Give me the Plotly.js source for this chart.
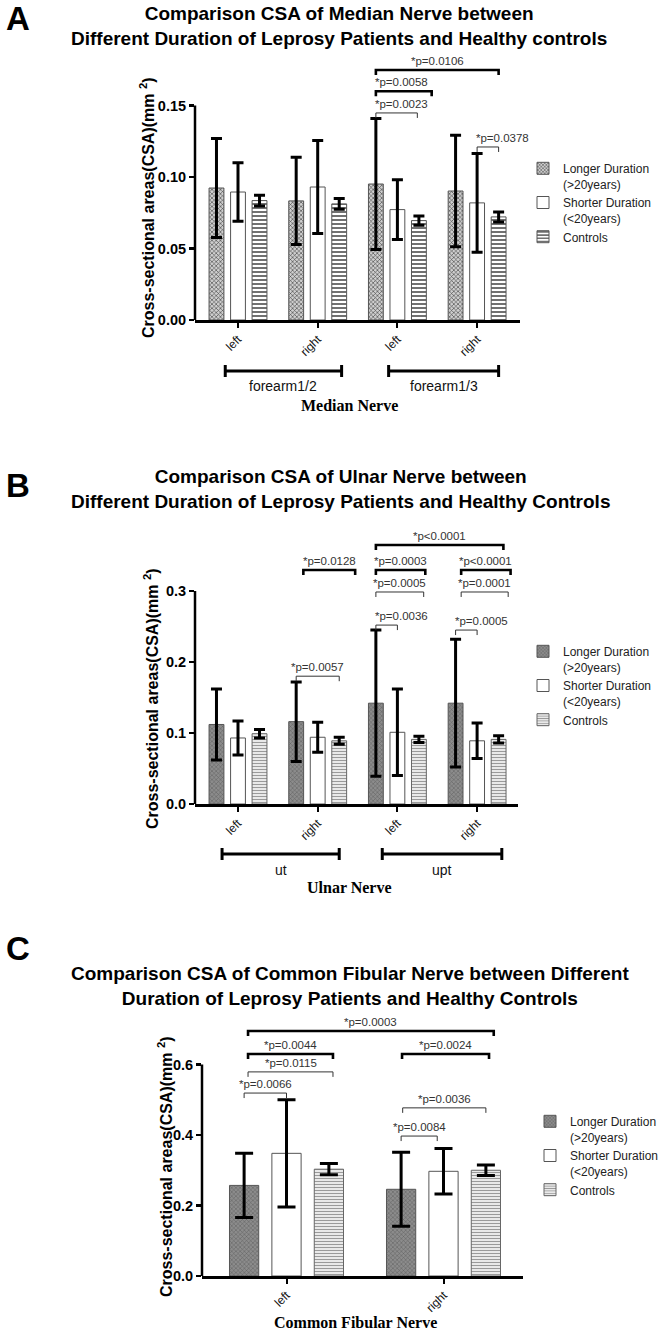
<!DOCTYPE html>
<html><head><meta charset="utf-8">
<script src="https://cdn.plot.ly/plotly-3.0.1.min.js"></script>
<style>body{margin:0;padding:0;background:#fff}#chart{width:666px;height:1335px}</style>
</head><body><div id="chart"></div>
<script>
// ---------------- DATA ----------------
const seriesNames = ['Longer Duration<br>(&gt;20years)', 'Shorter Duration<br>(&lt;20years)', 'Controls'];

const medianSites = ['left', 'right', 'left', 'right'];
const medianRegions = ['forearm1/2', 'forearm1/3'];
const medianLonger = [0.0923, 0.0833, 0.0951, 0.0902];
const medianLongerSD = [0.0346, 0.0305, 0.0458, 0.0390];
const medianShorter = [0.0895, 0.0930, 0.0772, 0.0819];
const medianShorterSD = [0.0205, 0.0325, 0.0209, 0.0345];
const medianControls = [0.0835, 0.0812, 0.0695, 0.0721];
const medianControlsSD = [0.0037, 0.0037, 0.0033, 0.0035];
const medianPValues = ['*p=0.0106', '*p=0.0058', '*p=0.0023', '*p=0.0378'];

const ulnarSites = ['left', 'right', 'left', 'right'];
const ulnarRegions = ['ut', 'upt'];
const ulnarLonger = [0.112, 0.116, 0.142, 0.142];
const ulnarLongerSD = [0.050, 0.056, 0.103, 0.090];
const ulnarShorter = [0.093, 0.094, 0.101, 0.089];
const ulnarShorterSD = [0.024, 0.021, 0.061, 0.025];
const ulnarControls = [0.099, 0.089, 0.091, 0.091];
const ulnarControlsSD = [0.006, 0.005, 0.0045, 0.005];
const ulnarPValues = ['*p<0.0001', '*p=0.0128', '*p=0.0003', '*p<0.0001', '*p=0.0005', '*p=0.0001', '*p=0.0036', '*p=0.0005', '*p=0.0057'];

const fibularSites = ['left', 'right'];
const fibularLonger = [0.257, 0.246];
const fibularLongerSD = [0.091, 0.105];
const fibularShorter = [0.348, 0.297];
const fibularShorterSD = [0.152, 0.0645];
const fibularControls = [0.303, 0.300];
const fibularControlsSD = [0.016, 0.015];
const fibularPValues = ['*p=0.0003', '*p=0.0044', '*p=0.0024', '*p=0.0115', '*p=0.0066', '*p=0.0036', '*p=0.0084'];

const medianTicks = [0, 0.05, 0.10, 0.15], medianTickText = ['0.00', '0.05', '0.10', '0.15'];
const ulnarTicks = [0, 0.1, 0.2, 0.3], ulnarTickText = ['0.0', '0.1', '0.2', '0.3'];
const fibularTicks = [0, 0.2, 0.4, 0.6], fibularTickText = ['0.0', '0.2', '0.4', '0.6'];

// ---------------- LAYOUT HELPERS ----------------
const W = 666, H = 1335;
const PX = v => v / W;
const PY = v => 1 - v / H;
const FONT = 'Liberation Sans, Arial, sans-serif';
const NARROW = 'Liberation Sans Narrow, Arial Narrow, Liberation Sans, Arial, sans-serif';
const SERIF = 'Liberation Serif, Times New Roman, serif';

// bracket geometry (x in category units, y in data units); texts come from the p-value arrays
const medianBrackets = [
  {x0: 1.73, x1: 3.27, y: 0.1748, thick: true, align: 'center'},
  {x0: 1.73, x1: 2.43, y: 0.160, thick: true, align: 'left'},
  {x0: 1.73, x1: 2.25, y: 0.1448, thick: false, align: 'left'},
  {x0: 3.00, x1: 3.27, y: 0.121, thick: false, align: 'left'}
];
const ulnarBrackets = [
  {x0: 1.73, x1: 3.33, y: 0.3648, thick: true, align: 'center'},
  {x0: 0.82, x1: 1.47, y: 0.3296, thick: true, align: 'center'},
  {x0: 1.73, x1: 2.35, y: 0.3296, thick: true, align: 'center'},
  {x0: 2.80, x1: 3.42, y: 0.3296, thick: true, align: 'center'},
  {x0: 1.73, x1: 2.33, y: 0.2986, thick: false, align: 'center'},
  {x0: 2.80, x1: 3.39, y: 0.2986, thick: false, align: 'center'},
  {x0: 1.73, x1: 2.00, y: 0.252, thick: false, align: 'left'},
  {x0: 2.73, x1: 3.00, y: 0.245, thick: false, align: 'left'},
  {x0: 0.73, x1: 1.27, y: 0.180, thick: false, align: 'center'}
];
const fibularBrackets = [
  {x0: -0.245, x1: 1.32, y: 0.695, thick: true, align: 'center'},
  {x0: -0.245, x1: 0.296, y: 0.630, thick: true, align: 'center'},
  {x0: 0.736, x1: 1.29, y: 0.630, thick: true, align: 'center'},
  {x0: -0.245, x1: 0.296, y: 0.579, thick: false, align: 'center'},
  {x0: -0.27, x1: 0.0, y: 0.519, thick: false, align: 'center'},
  {x0: 0.74, x1: 1.27, y: 0.477, thick: false, align: 'center'},
  {x0: 0.73, x1: 0.96, y: 0.397, thick: false, align: 'center'}
];

const panels = [
  {key: '', letter: 'A', letterY: 18,
   title: 'Comparison CSA of Median Nerve between<br>Different Duration of Leprosy Patients and Healthy controls', titleX: 339, titleY: 26,
   left: 195, right: 520, base: 320, top: 58, c0: 238, unit: 79.7, perY: 1430,
   sites: medianSites, ticks: medianTicks, tickText: medianTickText,
   vals: [medianLonger, medianShorter, medianControls], sds: [medianLongerSD, medianShorterSD, medianControlsSD],
   brackets: medianBrackets, pvals: medianPValues,
   regions: medianRegions, regionSpans: [[-0.16, 1.30], [1.89, 3.27]], regionY: 371, regionLabelY: 386,
   xlabel: 'Median Nerve', xlabelX: 349, xlabelY: 405, ytitleX: 147, ytitleY: 208,
   legendX: 523, legendY: 154, cap: 5.5, dark: false},
  {key: '2', letter: 'B', letterY: 485,
   title: 'Comparison CSA of Ulnar Nerve between<br>Different Duration of Leprosy Patients and Healthy Controls', titleX: 341, titleY: 489,
   left: 195, right: 518, base: 804, top: 525, c0: 238, unit: 79.7, perY: 710,
   sites: ulnarSites, ticks: ulnarTicks, tickText: ulnarTickText,
   vals: [ulnarLonger, ulnarShorter, ulnarControls], sds: [ulnarLongerSD, ulnarShorterSD, ulnarControlsSD],
   brackets: ulnarBrackets, pvals: ulnarPValues,
   regions: ulnarRegions, regionSpans: [[-0.20, 1.27], [1.81, 3.31]], regionY: 854, regionLabelY: 870,
   xlabel: 'Ulnar Nerve', xlabelX: 349, xlabelY: 887, ytitleX: 151, ytitleY: 699,
   legendX: 523, legendY: 637, cap: 5.5, dark: true},
  {key: '3', letter: 'C', letterY: 948,
   title: 'Comparison CSA of Common Fibular Nerve between Different<br>Duration of Leprosy Patients and Healthy Controls', titleX: 350, titleY: 986,
   left: 202, right: 523, base: 1276, top: 1018, c0: 286.5, unit: 157, perY: 352.5,
   sites: fibularSites, ticks: fibularTicks, tickText: fibularTickText,
   vals: [fibularLonger, fibularShorter, fibularControls], sds: [fibularLongerSD, fibularShorterSD, fibularControlsSD],
   brackets: fibularBrackets, pvals: fibularPValues,
   regions: [], regionSpans: [], regionY: 0, regionLabelY: 0,
   xlabel: 'Common Fibular Nerve', xlabelX: 355, xlabelY: 1322, ytitleX: 165, ytitleY: 1167,
   legendX: 530, legendY: 1107, cap: 9, dark: true}
];

function barStyles(dark) {
  if (!dark) return [
    {color: '#b5b5b5', pattern: {shape: 'x', fgcolor: '#3a3a3a', bgcolor: '#cfcfcf', size: 3, solidity: 0.35}, line: {color: '#555', width: 1}},
    {color: '#ffffff', line: {color: '#555', width: 1}},
    {color: '#ffffff', pattern: {shape: '-', fgcolor: '#333', bgcolor: '#ffffff', size: 4, solidity: 0.35}, line: {color: '#555', width: 1}}
  ];
  return [
    {color: '#7a7a7a', pattern: {shape: 'x', fgcolor: '#5c5c5c', bgcolor: '#8c8c8c', size: 3, solidity: 0.3}, line: {color: '#555', width: 1}},
    {color: '#ffffff', line: {color: '#555', width: 1}},
    {color: '#e6e6e6', pattern: {shape: '-', fgcolor: '#9a9a9a', bgcolor: '#f2f2f2', size: 3, solidity: 0.4}, line: {color: '#666', width: 1}}
  ];
}

const data = [], shapes = [], annotations = [];
const layout = {
  width: W, height: H, margin: {l: 0, r: 0, t: 0, b: 0},
  paper_bgcolor: '#fff', plot_bgcolor: 'rgba(0,0,0,0)',
  barmode: 'group', bargap: 0.19, bargroupgap: 0.31,
  font: {family: FONT, color: '#000'},
  showlegend: true
};

panels.forEach((p, pi) => {
  const xa = 'x' + p.key, ya = 'y' + p.key;
  const legName = 'legend' + (pi === 0 ? '' : (pi + 1));
  const xs = p.sites.map((_, i) => i);
  const styles = barStyles(p.dark);
  p.vals.forEach((v, si) => {
    data.push({
      type: 'bar', x: xs, y: v, name: seriesNames[si], xaxis: xa, yaxis: ya, legend: legName,
      marker: styles[si],
      error_y: {type: 'data', array: p.sds[si], visible: true, color: '#000', thickness: 3, width: p.cap},
      hoverinfo: 'skip'
    });
  });
  const yTop = (p.base - p.top) / p.perY;
  layout['xaxis' + p.key] = {
    domain: [PX(p.left), PX(p.right)], anchor: ya,
    range: [(p.left - p.c0) / p.unit, (p.right - p.c0) / p.unit],
    tickvals: xs, ticktext: p.sites, tickangle: -45,
    ticks: 'outside', ticklen: 5, tickwidth: 2, tickcolor: '#000',
    showline: true, linewidth: 2.5, linecolor: '#000', showgrid: false, zeroline: false,
    tickfont: {size: 12, color: '#111', family: FONT}, fixedrange: true
  };
  layout['yaxis' + p.key] = {
    domain: [PY(p.base), PY(p.top)], anchor: xa, range: [0, yTop],
    tickvals: p.ticks, ticktext: p.tickText,
    ticks: 'outside', ticklen: 5, tickwidth: 2.5, tickcolor: '#000',
    showline: false, showgrid: false, zeroline: false,
    tickfont: {size: 14.5, color: '#000', family: FONT, weight: 'bold'}, fixedrange: true
  };
  // y axis line up to the top tick
  shapes.push({type: 'line', xref: xa + ' domain', yref: ya, x0: 0, x1: 0, y0: 0, y1: p.ticks[p.ticks.length - 1],
    line: {color: '#000', width: 2.5}});
  // legend
  layout[legName] = {
    x: PX(p.legendX), xanchor: 'left', y: PY(p.legendY), yanchor: 'top',
    font: {size: 12, family: FONT, color: '#222'}, valign: 'top', tracegroupgap: 0,
    bgcolor: 'rgba(0,0,0,0)', borderwidth: 0, itemclick: false
  };
  // significance brackets
  const capY = 5 / p.perY;
  p.brackets.forEach((b, bi) => {
    shapes.push({type: 'path', xref: xa, yref: ya,
      path: `M${b.x0},${b.y - capY} L${b.x0},${b.y} L${b.x1},${b.y} L${b.x1},${b.y - capY}`,
      line: {color: b.thick ? '#000' : '#333', width: b.thick ? 2.6 : 1}});
    annotations.push({xref: xa, yref: ya, x: b.align === 'left' ? b.x0 : (b.x0 + b.x1) / 2, y: b.y,
      xanchor: b.align === 'left' ? 'left' : 'center', yanchor: 'bottom', yshift: 1, xshift: b.align === 'left' ? -3 : 0,
      text: p.pvals[bi], showarrow: false, font: {size: 11.5, family: NARROW, color: '#333'}});
  });
  // region brackets below the axis
  p.regions.forEach((r, ri) => {
    const [a, b] = p.regionSpans[ri];
    shapes.push({type: 'line', xref: xa, yref: 'paper', x0: a, x1: b, y0: PY(p.regionY), y1: PY(p.regionY), line: {color: '#000', width: 3}});
    shapes.push({type: 'line', xref: xa, yref: 'paper', x0: a, x1: a, y0: PY(p.regionY - 6), y1: PY(p.regionY + 6), line: {color: '#000', width: 3}});
    shapes.push({type: 'line', xref: xa, yref: 'paper', x0: b, x1: b, y0: PY(p.regionY - 6), y1: PY(p.regionY + 6), line: {color: '#000', width: 3}});
    annotations.push({xref: xa, yref: 'paper', x: (a + b) / 2, y: PY(p.regionLabelY), xanchor: 'center', yanchor: 'middle',
      text: r, showarrow: false, font: {size: 14, family: FONT, color: '#111'}});
  });
  // x-axis label
  annotations.push({xref: 'paper', yref: 'paper', x: PX(p.xlabelX), y: PY(p.xlabelY), xanchor: 'center', yanchor: 'middle',
    text: p.xlabel, showarrow: false, font: {size: 16, family: SERIF, color: '#000', weight: 'bold'}});
  // y-axis title
  annotations.push({xref: 'paper', yref: 'paper', x: PX(p.ytitleX), y: PY(p.ytitleY),
    xanchor: 'center', yanchor: 'middle', textangle: -90,
    text: 'Cross-sectional areas(CSA)(mm <sup>2</sup>)', showarrow: false, font: {size: 16, family: FONT, color: '#000', weight: 'bold'}});
  // title
  annotations.push({xref: 'paper', yref: 'paper', x: PX(p.titleX), y: PY(p.titleY), xanchor: 'center', yanchor: 'middle',
    text: p.title, showarrow: false, font: {size: 19, family: FONT, color: '#000', weight: 'bold'}});
  // panel letter
  annotations.push({xref: 'paper', yref: 'paper', x: PX(4), y: PY(p.letterY), xanchor: 'left', yanchor: 'middle',
    text: p.letter, showarrow: false, font: {size: 33, family: FONT, color: '#000', weight: 'bold'}});
});

layout.shapes = shapes;
layout.annotations = annotations;

Plotly.newPlot('chart', data, layout, {staticPlot: true, displayModeBar: false});
</script>
</body></html>
